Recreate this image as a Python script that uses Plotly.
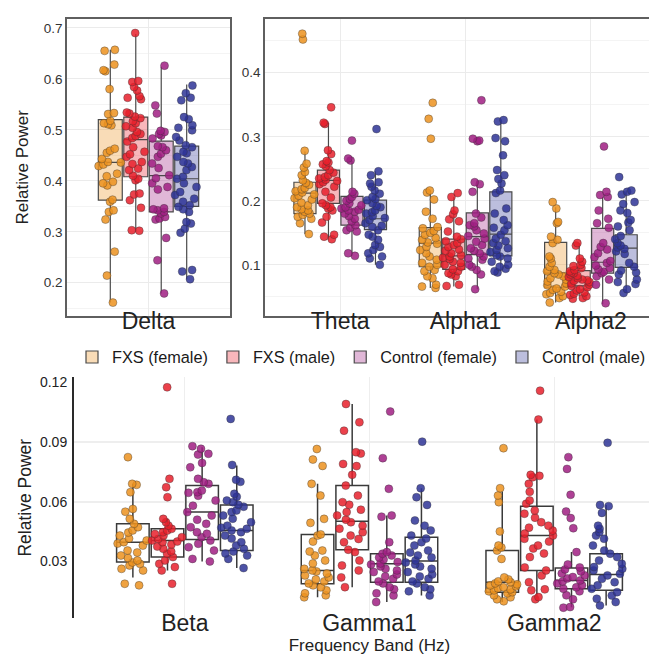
import plotly.graph_objects as go

# ---------------- data ----------------
groups = ["FXS (female)", "FXS (male)", "Control (female)", "Control (male)"]
bands = ["Delta", "Theta", "Alpha1", "Alpha2", "Beta", "Gamma1", "Gamma2"]

# box statistics per group, ordered as bands
fxs_f_q1 = [0.362, 0.180, 0.097, 0.065, 0.0297, 0.0188, 0.0146]
fxs_f_med = [0.436, 0.212, 0.134, 0.087, 0.0397, 0.0255, 0.0196]
fxs_f_q3 = [0.520, 0.229, 0.158, 0.135, 0.0489, 0.0436, 0.0355]
fxs_f_lo = [0.161, 0.148, 0.064, 0.041, 0.0220, 0.0120, 0.0096]
fxs_f_hi = [0.657, 0.277, 0.216, 0.190, 0.0690, 0.0690, 0.0651]

fxs_m_q1 = [0.408, 0.196, 0.093, 0.067, 0.0322, 0.0359, 0.0255]
fxs_m_med = [0.481, 0.232, 0.114, 0.076, 0.0405, 0.0502, 0.0430]
fxs_m_q3 = [0.525, 0.248, 0.140, 0.091, 0.0464, 0.0681, 0.0578]
fxs_m_lo = [0.300, 0.139, 0.066, 0.051, 0.0255, 0.0171, 0.0104]
fxs_m_hi = [0.688, 0.322, 0.206, 0.134, 0.0514, 0.1091, 0.1013]

ctl_f_q1 = [0.339, 0.162, 0.116, 0.087, 0.0410, 0.0196, 0.0163]
ctl_f_med = [0.410, 0.186, 0.144, 0.104, 0.0548, 0.0288, 0.0205]
ctl_f_q3 = [0.478, 0.207, 0.181, 0.157, 0.0681, 0.0339, 0.0267]
ctl_f_lo = [0.179, 0.114, 0.062, 0.039, 0.0300, 0.0096, 0.0070]
ctl_f_hi = [0.624, 0.263, 0.232, 0.206, 0.0874, 0.0531, 0.0347]

ctl_m_q1 = [0.350, 0.155, 0.114, 0.096, 0.0355, 0.0196, 0.0155]
ctl_m_med = [0.404, 0.172, 0.148, 0.126, 0.0456, 0.0302, 0.0235]
ctl_m_q3 = [0.468, 0.201, 0.214, 0.147, 0.0584, 0.0422, 0.0339]
ctl_m_lo = [0.207, 0.100, 0.090, 0.056, 0.0267, 0.0129, 0.0079]
ctl_m_hi = [0.589, 0.246, 0.326, 0.216, 0.0782, 0.0668, 0.0584]

# individual subject values
delta_fxs_f = [0.657, 0.655, 0.628, 0.617, 0.615, 0.580, 0.533, 0.531, 0.518, 0.513, 0.511, 0.509, 0.463, 0.459, 0.455, 0.443, 0.437, 0.436, 0.432, 0.429, 0.414, 0.409, 0.398, 0.395, 0.391, 0.363, 0.359, 0.342, 0.339, 0.324, 0.261, 0.214, 0.161]
delta_fxs_m = [0.690, 0.596, 0.594, 0.584, 0.577, 0.566, 0.563, 0.560, 0.534, 0.532, 0.526, 0.523, 0.517, 0.513, 0.507, 0.504, 0.496, 0.492, 0.488, 0.484, 0.477, 0.466, 0.457, 0.452, 0.447, 0.437, 0.433, 0.424, 0.421, 0.410, 0.404, 0.401, 0.375, 0.373, 0.362, 0.347, 0.303, 0.302]
delta_ctl_f = [0.626, 0.548, 0.532, 0.498, 0.496, 0.492, 0.489, 0.483, 0.468, 0.466, 0.460, 0.453, 0.447, 0.434, 0.425, 0.411, 0.405, 0.395, 0.388, 0.383, 0.346, 0.344, 0.342, 0.339, 0.336, 0.329, 0.326, 0.324, 0.288, 0.244, 0.179]
delta_ctl_m = [0.587, 0.572, 0.563, 0.558, 0.525, 0.521, 0.509, 0.504, 0.499, 0.486, 0.479, 0.470, 0.466, 0.457, 0.454, 0.447, 0.437, 0.434, 0.427, 0.421, 0.408, 0.404, 0.395, 0.388, 0.378, 0.372, 0.365, 0.359, 0.352, 0.349, 0.344, 0.339, 0.319, 0.316, 0.306, 0.298, 0.225, 0.222, 0.207]

theta_fxs_f = [0.461, 0.452, 0.278, 0.258, 0.252, 0.245, 0.240, 0.232, 0.228, 0.225, 0.220, 0.218, 0.215, 0.213, 0.210, 0.208, 0.204, 0.202, 0.197, 0.193, 0.190, 0.187, 0.185, 0.183, 0.180, 0.178, 0.175, 0.172, 0.165, 0.148]
theta_fxs_m = [0.346, 0.322, 0.320, 0.279, 0.273, 0.262, 0.260, 0.257, 0.254, 0.248, 0.244, 0.240, 0.237, 0.235, 0.233, 0.231, 0.229, 0.226, 0.222, 0.214, 0.205, 0.196, 0.193, 0.190, 0.188, 0.185, 0.175, 0.166, 0.147, 0.144, 0.140]
theta_ctl_f = [0.294, 0.266, 0.263, 0.214, 0.211, 0.206, 0.203, 0.200, 0.196, 0.193, 0.190, 0.188, 0.186, 0.185, 0.183, 0.180, 0.176, 0.172, 0.168, 0.162, 0.158, 0.154, 0.152, 0.118, 0.114]
theta_ctl_m = [0.312, 0.246, 0.240, 0.229, 0.227, 0.222, 0.216, 0.211, 0.206, 0.203, 0.201, 0.196, 0.192, 0.190, 0.185, 0.182, 0.180, 0.176, 0.173, 0.170, 0.165, 0.161, 0.159, 0.154, 0.147, 0.144, 0.139, 0.131, 0.128, 0.123, 0.118, 0.113, 0.110, 0.100]

alpha1_fxs_f = [0.353, 0.328, 0.297, 0.216, 0.213, 0.202, 0.183, 0.172, 0.159, 0.157, 0.153, 0.150, 0.147, 0.142, 0.139, 0.135, 0.133, 0.128, 0.123, 0.118, 0.113, 0.108, 0.103, 0.100, 0.097, 0.092, 0.090, 0.082, 0.079, 0.069, 0.066, 0.064]
alpha1_fxs_m = [0.212, 0.206, 0.185, 0.179, 0.171, 0.168, 0.152, 0.144, 0.140, 0.137, 0.134, 0.131, 0.128, 0.124, 0.122, 0.118, 0.115, 0.113, 0.111, 0.109, 0.105, 0.103, 0.100, 0.097, 0.093, 0.090, 0.087, 0.085, 0.082, 0.069, 0.067]
alpha1_ctl_f = [0.357, 0.297, 0.294, 0.293, 0.229, 0.226, 0.214, 0.180, 0.174, 0.165, 0.162, 0.160, 0.154, 0.149, 0.145, 0.141, 0.136, 0.131, 0.126, 0.122, 0.118, 0.113, 0.110, 0.108, 0.100, 0.097, 0.092, 0.085, 0.062]
alpha1_ctl_m = [0.326, 0.324, 0.298, 0.293, 0.271, 0.248, 0.240, 0.234, 0.227, 0.216, 0.212, 0.188, 0.180, 0.170, 0.162, 0.158, 0.154, 0.147, 0.141, 0.137, 0.134, 0.130, 0.126, 0.123, 0.120, 0.115, 0.113, 0.110, 0.105, 0.100, 0.097, 0.094, 0.090, 0.088]

alpha2_fxs_f = [0.198, 0.188, 0.167, 0.165, 0.144, 0.139, 0.134, 0.113, 0.110, 0.103, 0.097, 0.092, 0.090, 0.087, 0.085, 0.082, 0.079, 0.077, 0.074, 0.071, 0.068, 0.066, 0.063, 0.061, 0.058, 0.056, 0.054, 0.051, 0.048, 0.041]
alpha2_fxs_m = [0.134, 0.130, 0.110, 0.105, 0.100, 0.098, 0.095, 0.092, 0.090, 0.088, 0.087, 0.085, 0.083, 0.081, 0.079, 0.077, 0.076, 0.075, 0.073, 0.071, 0.069, 0.067, 0.065, 0.062, 0.060, 0.057, 0.055, 0.053, 0.051, 0.048, 0.047]
alpha2_ctl_f = [0.285, 0.214, 0.209, 0.206, 0.185, 0.172, 0.165, 0.158, 0.134, 0.128, 0.124, 0.118, 0.112, 0.106, 0.103, 0.099, 0.095, 0.093, 0.089, 0.087, 0.082, 0.077, 0.069, 0.040]
alpha2_ctl_m = [0.237, 0.216, 0.214, 0.210, 0.198, 0.195, 0.185, 0.181, 0.170, 0.166, 0.160, 0.154, 0.145, 0.140, 0.134, 0.130, 0.127, 0.125, 0.121, 0.117, 0.103, 0.097, 0.091, 0.088, 0.085, 0.077, 0.073, 0.070, 0.062, 0.056]

beta_fxs_f = [0.0824, 0.0690, 0.0685, 0.0648, 0.0564, 0.0550, 0.0514, 0.0489, 0.0472, 0.0456, 0.0445, 0.0430, 0.0415, 0.0405, 0.0397, 0.0390, 0.0380, 0.0355, 0.0345, 0.0330, 0.0318, 0.0305, 0.0295, 0.0288, 0.0280, 0.0263, 0.0255, 0.0188, 0.0180]
beta_fxs_m = [0.1175, 0.0715, 0.0673, 0.0623, 0.0514, 0.0497, 0.0480, 0.0464, 0.0455, 0.0447, 0.0438, 0.0430, 0.0422, 0.0413, 0.0405, 0.0400, 0.0397, 0.0385, 0.0375, 0.0364, 0.0350, 0.0339, 0.0322, 0.0305, 0.0288, 0.0272, 0.0255, 0.0188]
beta_ctl_f = [0.0879, 0.0866, 0.0841, 0.0837, 0.0795, 0.0773, 0.0715, 0.0698, 0.0690, 0.0656, 0.0648, 0.0645, 0.0630, 0.0606, 0.0580, 0.0548, 0.0531, 0.0510, 0.0489, 0.0472, 0.0447, 0.0439, 0.0422, 0.0405, 0.0389, 0.0372, 0.0355, 0.0313, 0.0300]
beta_ctl_m = [0.1016, 0.0785, 0.0710, 0.0700, 0.0640, 0.0625, 0.0606, 0.0598, 0.0585, 0.0575, 0.0556, 0.0548, 0.0531, 0.0515, 0.0497, 0.0480, 0.0470, 0.0464, 0.0456, 0.0447, 0.0430, 0.0415, 0.0397, 0.0380, 0.0364, 0.0350, 0.0340, 0.0330, 0.0313, 0.0267]

gamma1_fxs_f = [0.0865, 0.0812, 0.0780, 0.0690, 0.0631, 0.0514, 0.0494, 0.0436, 0.0430, 0.0400, 0.0355, 0.0350, 0.0330, 0.0305, 0.0290, 0.0263, 0.0255, 0.0250, 0.0240, 0.0230, 0.0220, 0.0210, 0.0200, 0.0190, 0.0180, 0.0170, 0.0155, 0.0140, 0.0130, 0.0120]
gamma1_fxs_m = [0.1091, 0.0999, 0.0957, 0.0849, 0.0842, 0.0790, 0.0779, 0.0735, 0.0681, 0.0631, 0.0598, 0.0585, 0.0560, 0.0548, 0.0531, 0.0510, 0.0497, 0.0480, 0.0465, 0.0447, 0.0430, 0.0413, 0.0397, 0.0359, 0.0347, 0.0305, 0.0280, 0.0255, 0.0220, 0.0171]
gamma1_ctl_f = [0.1053, 0.0819, 0.0665, 0.0531, 0.0525, 0.0397, 0.0347, 0.0339, 0.0330, 0.0320, 0.0310, 0.0297, 0.0290, 0.0285, 0.0275, 0.0263, 0.0255, 0.0247, 0.0235, 0.0225, 0.0213, 0.0200, 0.0190, 0.0171, 0.0160, 0.0140, 0.0129, 0.0096]
gamma1_ctl_m = [0.0902, 0.0668, 0.0623, 0.0584, 0.0506, 0.0480, 0.0456, 0.0430, 0.0415, 0.0397, 0.0380, 0.0355, 0.0345, 0.0330, 0.0320, 0.0305, 0.0295, 0.0285, 0.0275, 0.0263, 0.0247, 0.0235, 0.0225, 0.0213, 0.0200, 0.0190, 0.0171, 0.0160, 0.0150, 0.0129]

gamma2_fxs_f = [0.0869, 0.0668, 0.0631, 0.0598, 0.0451, 0.0380, 0.0370, 0.0355, 0.0313, 0.0220, 0.0210, 0.0200, 0.0196, 0.0190, 0.0185, 0.0180, 0.0175, 0.0170, 0.0165, 0.0160, 0.0155, 0.0150, 0.0146, 0.0140, 0.0130, 0.0120, 0.0110, 0.0100]
gamma2_fxs_m = [0.1158, 0.1013, 0.0735, 0.0730, 0.0723, 0.0690, 0.0650, 0.0606, 0.0590, 0.0556, 0.0540, 0.0520, 0.0497, 0.0480, 0.0470, 0.0455, 0.0440, 0.0430, 0.0414, 0.0400, 0.0380, 0.0365, 0.0340, 0.0322, 0.0270, 0.0255, 0.0230, 0.0196, 0.0160, 0.0155, 0.0121, 0.0110]
gamma2_ctl_f = [0.0824, 0.0765, 0.0635, 0.0551, 0.0518, 0.0467, 0.0347, 0.0285, 0.0270, 0.0260, 0.0250, 0.0240, 0.0230, 0.0222, 0.0215, 0.0205, 0.0200, 0.0190, 0.0180, 0.0170, 0.0163, 0.0150, 0.0130, 0.0110, 0.0071, 0.0068]
gamma2_ctl_m = [0.0896, 0.0584, 0.0578, 0.0544, 0.0480, 0.0464, 0.0447, 0.0430, 0.0414, 0.0380, 0.0355, 0.0339, 0.0322, 0.0305, 0.0288, 0.0272, 0.0263, 0.0255, 0.0238, 0.0230, 0.0213, 0.0196, 0.0180, 0.0163, 0.0146, 0.0129, 0.0113, 0.0096, 0.0079]

# ---------------- assembly ----------------
stats = [
    (fxs_f_q1, fxs_f_med, fxs_f_q3, fxs_f_lo, fxs_f_hi),
    (fxs_m_q1, fxs_m_med, fxs_m_q3, fxs_m_lo, fxs_m_hi),
    (ctl_f_q1, ctl_f_med, ctl_f_q3, ctl_f_lo, ctl_f_hi),
    (ctl_m_q1, ctl_m_med, ctl_m_q3, ctl_m_lo, ctl_m_hi),
]
points = {
    "Delta": [delta_fxs_f, delta_fxs_m, delta_ctl_f, delta_ctl_m],
    "Theta": [theta_fxs_f, theta_fxs_m, theta_ctl_f, theta_ctl_m],
    "Alpha1": [alpha1_fxs_f, alpha1_fxs_m, alpha1_ctl_f, alpha1_ctl_m],
    "Alpha2": [alpha2_fxs_f, alpha2_fxs_m, alpha2_ctl_f, alpha2_ctl_m],
    "Beta": [beta_fxs_f, beta_fxs_m, beta_ctl_f, beta_ctl_m],
    "Gamma1": [gamma1_fxs_f, gamma1_fxs_m, gamma1_ctl_f, gamma1_ctl_m],
    "Gamma2": [gamma2_fxs_f, gamma2_fxs_m, gamma2_ctl_f, gamma2_ctl_m],
}
panels = [
    (["Delta"], "x", "y"),
    (["Theta", "Alpha1", "Alpha2"], "x2", "y2"),
    (["Beta", "Gamma1", "Gamma2"], "x3", "y3"),
]

point_rgb = [(236, 146, 30), (232, 32, 44), (160, 30, 130), (46, 52, 150)]

fig = go.Figure()

# boxes
for p, (cats, xa, ya) in enumerate(panels):
    idx = [bands.index(c) for c in cats]
    for g, name in enumerate(groups):
        q1, med, q3, lo, hi = stats[g]
        r, gg, b = point_rgb[g]
        bottom = (p == 2)
        fig.add_trace(go.Box(
            name=name, legendgroup=name, showlegend=(p == 0),
            x=cats,
            q1=[q1[i] for i in idx], median=[med[i] for i in idx], q3=[q3[i] for i in idx],
            lowerfence=[lo[i] for i in idx], upperfence=[hi[i] for i in idx],
            boxpoints=False, whiskerwidth=0,
            fillcolor="rgba(255,255,255,0)" if bottom else f"rgba({r},{gg},{b},0.32)",
            line=dict(color="#3a3a3a" if bottom else "#4a4a4a", width=1.5 if bottom else 1.2),
            marker=dict(color=f"rgb({r},{gg},{b})"),
            xaxis=xa, yaxis=ya, offsetgroup=f"g{g}", alignmentgroup=f"p{p}",
            hoverinfo="skip",
        ))

# jittered points
for p, (cats, xa, ya) in enumerate(panels):
    for g, name in enumerate(groups):
        xs, ys = [], []
        for c in cats:
            vals = points[c][g]
            xs += [c] * len(vals)
            ys += vals
        r, gg, b = point_rgb[g]
        fig.add_trace(go.Box(
            name=name, legendgroup=name, showlegend=False,
            x=xs, y=ys, boxpoints="all", jitter=1.0, pointpos=0,
            fillcolor="rgba(0,0,0,0)", line=dict(color="rgba(0,0,0,0)", width=0),
            whiskerwidth=0,
            marker=dict(size=8, color=f"rgba({r},{gg},{b},0.85)",
                        line=dict(color="rgba(50,50,50,0.6)", width=0.6)),
            xaxis=xa, yaxis=ya, offsetgroup=f"g{g}", alignmentgroup=f"p{p}",
            hoverinfo="skip",
        ))

W, H = 657, 658
grid = "#EBEBEB"
minor_grid = "#F4F4F4"
border = "#5f5f5f"
font_family = "Liberation Sans, Arial, sans-serif"
cat_font = dict(size=23, color="#222")

top_dom = [1 - 306 / H, 1 - 8 / H]

fig.update_layout(
    width=W, height=H, autosize=False,
    margin=dict(l=0, r=0, t=0, b=0),
    paper_bgcolor="white", plot_bgcolor="white",
    font=dict(family=font_family, color="#222"),
    boxmode="group", boxgap=0.25, boxgroupgap=0.06,
    showlegend=True,
    legend=dict(orientation="h", x=64 / W, xanchor="left", y=1 - 348 / H, yanchor="middle",
                font=dict(size=16.3, color="#1a1a1a"), bgcolor="rgba(0,0,0,0)",
                itemwidth=30, itemclick=False, itemdoubleclick=False, tracegroupgap=0),
    xaxis=dict(domain=[59 / W, 222 / W], anchor="y", type="category",
               categoryorder="array", categoryarray=["Delta"],
               range=[-0.6, 0.6], showline=True, mirror=True, linecolor=border, linewidth=1.5,
               showgrid=True, gridcolor=grid, ticks="", zeroline=False,
               ticklabelstandoff=-16, tickfont=cat_font),
    yaxis=dict(domain=top_dom, anchor="x", range=[0.1355, 0.7176],
               tick0=0, dtick=0.1, tickformat=".1f",
               showline=True, mirror=True, linecolor=border, linewidth=1.5,
               showgrid=True, gridcolor=grid, zeroline=False, ticks="",
               minor=dict(dtick=0.05, tick0=0, showgrid=True, gridcolor=minor_grid),
               tickfont=dict(size=13.5, color="#333"),
               title=dict(text="Relative Power", font=dict(size=17, color="#222"), standoff=11)),
    xaxis2=dict(domain=[257 / W, 655 / W], anchor="y2", type="category",
                categoryorder="array", categoryarray=["Theta", "Alpha1", "Alpha2"],
                range=[-0.6, 2.575], showline=True, mirror=True, linecolor=border, linewidth=1.5,
                showgrid=True, gridcolor=grid, ticks="", zeroline=False,
                ticklabelstandoff=-16, tickfont=cat_font),
    yaxis2=dict(domain=top_dom, anchor="x2", range=[0.0207, 0.484],
                tick0=0, dtick=0.1, tickformat=".1f",
                showline=True, mirror=True, linecolor=border, linewidth=1.5,
                showgrid=True, gridcolor=grid, zeroline=False, ticks="",
                minor=dict(dtick=0.05, tick0=0, showgrid=True, gridcolor=minor_grid),
                tickfont=dict(size=13.5, color="#333")),
    xaxis3=dict(domain=[66 / W, 1.0], anchor="y3", type="category",
                categoryorder="array", categoryarray=["Beta", "Gamma1", "Gamma2"],
                range=[-0.6, 2.6], showline=False,
                showgrid=True, gridcolor="#EEEEEE", ticks="", zeroline=False,
                ticklabelstandoff=-11, tickfont=cat_font,
                title=dict(text="Frequency Band (Hz)", font=dict(size=17, color="#222"), standoff=3)),
    yaxis3=dict(domain=[1 - 610 / H, 1 - 368 / H], anchor="x3", range=[0.0015, 0.1225],
                tickmode="array", tickvals=[0.03, 0.06, 0.09, 0.12], tickformat=".2f",
                showline=True, linecolor="#2a2a2a", linewidth=2,
                showgrid=False, zeroline=False, ticks="", ticklabelstandoff=2,
                minor=dict(tickmode="array", tickvals=[0.06, 0.09], showgrid=True,
                           gridcolor="#EEEEEE", gridwidth=2),
                tickfont=dict(size=14, color="#222"),
                title=dict(text="Relative Power", font=dict(size=17.5, color="#222"), standoff=4)),
)

fig.write_html("out.html")
